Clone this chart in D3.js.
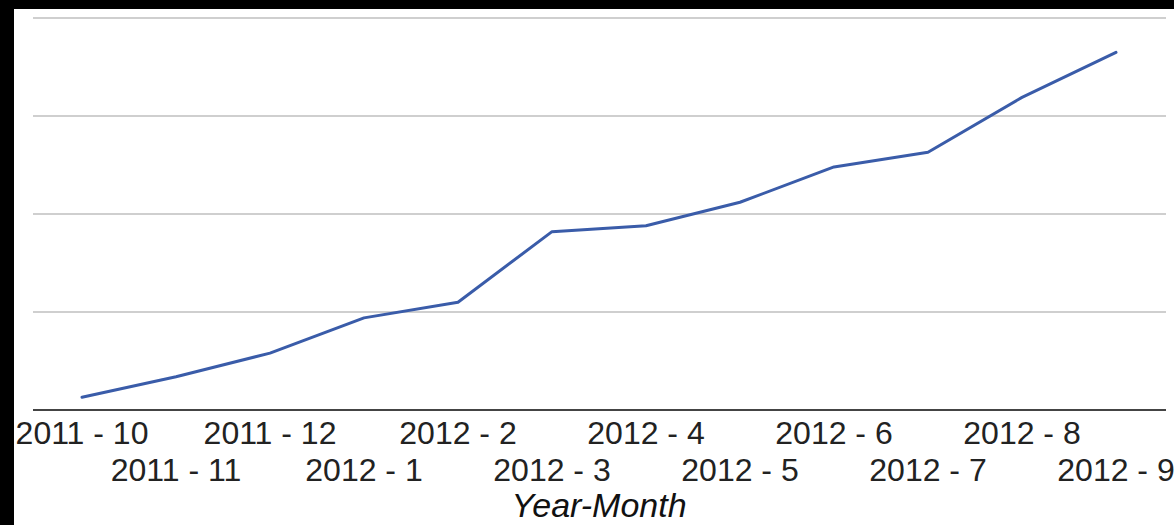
<!DOCTYPE html>
<html>
<meta charset="utf-8">
<head>
    <title>Year-Month line chart</title>
</head>
<style>
    body { margin: 0; background: #000; }
    svg { display: block; }
</style>
<script src="https://d3js.org/d3.v7.min.js"></script>
<body>
<div id="chart"></div>
<script>

// data (no y labels visible, units are arbitrary)
var months = ["2011 - 10","2011 - 11","2011 - 12","2012 - 1","2012 - 2","2012 - 3",
              "2012 - 4","2012 - 5","2012 - 6","2012 - 7","2012 - 8","2012 - 9"]
var values = [13, 34, 58, 94, 110, 182, 188, 212, 248, 263, 319, 365]
var gridTicks = [0, 100, 200, 300, 400]

var W = 1174, H = 525
var plot = {left: 35, right: 1163, top: 18, bottom: 410}

var svg = d3.select("#chart").append("svg")
  .attr("width", W)
  .attr("height", H)

// black frame round the white chart
svg.append("rect").attr("width", W).attr("height", H).attr("fill", "#000")
svg.append("rect").attr("x", 14).attr("y", 9)
  .attr("width", W - 14).attr("height", H - 9).attr("fill", "#fff")

var x = d3.scalePoint()
  .domain(months)
  .range([plot.left, plot.right])
  .padding(0.5)

var y = d3.scaleLinear()
  .domain([0, 400])
  .range([plot.bottom, plot.top])

// gridlines
svg.append("g")
  .selectAll("line")
  .data(gridTicks.filter(function(d) { return d > 0; }))
  .enter().append("line")
  .attr("x1", plot.left - 2)
  .attr("x2", plot.right + 3)
  .attr("y1", function(d) { return y(d); })
  .attr("y2", function(d) { return y(d); })
  .style("stroke", "#cfcfcf")
  .style("stroke-width", 2)

// baseline
svg.append("line")
  .attr("x1", plot.left - 2)
  .attr("x2", plot.right + 3)
  .attr("y1", y(0))
  .attr("y2", y(0))
  .style("stroke", "#444")
  .style("stroke-width", 2)

// the series
var line = d3.line()
  .x(function(d, i) { return x(months[i]); })
  .y(function(d) { return y(d); })

svg.append("path")
  .datum(values)
  .attr("d", line)
  .style("fill", "none")
  .style("stroke", "#3a5ca9")
  .style("stroke-width", 3)
  .style("stroke-linejoin", "round")
  .style("stroke-linecap", "round")

// staggered month labels
svg.append("g")
  .selectAll("text")
  .data(months)
  .enter().append("text")
  .attr("x", function(d) { return x(d); })
  .attr("y", function(d, i) { return i % 2 == 0 ? 444 : 481; })
  .attr("text-anchor", "middle")
  .style("font-family", "'Liberation Sans', Arial, sans-serif")
  .style("font-size", "32px")
  .style("fill", "#222")
  .text(function(d) { return d; })

// axis title
svg.append("text")
  .attr("x", (plot.left + plot.right) / 2)
  .attr("y", 517)
  .attr("text-anchor", "middle")
  .style("font-family", "'Liberation Sans', Arial, sans-serif")
  .style("font-size", "34px")
  .style("font-style", "italic")
  .style("fill", "#111")
  .text("Year-Month")

</script>
</body>
</html>
